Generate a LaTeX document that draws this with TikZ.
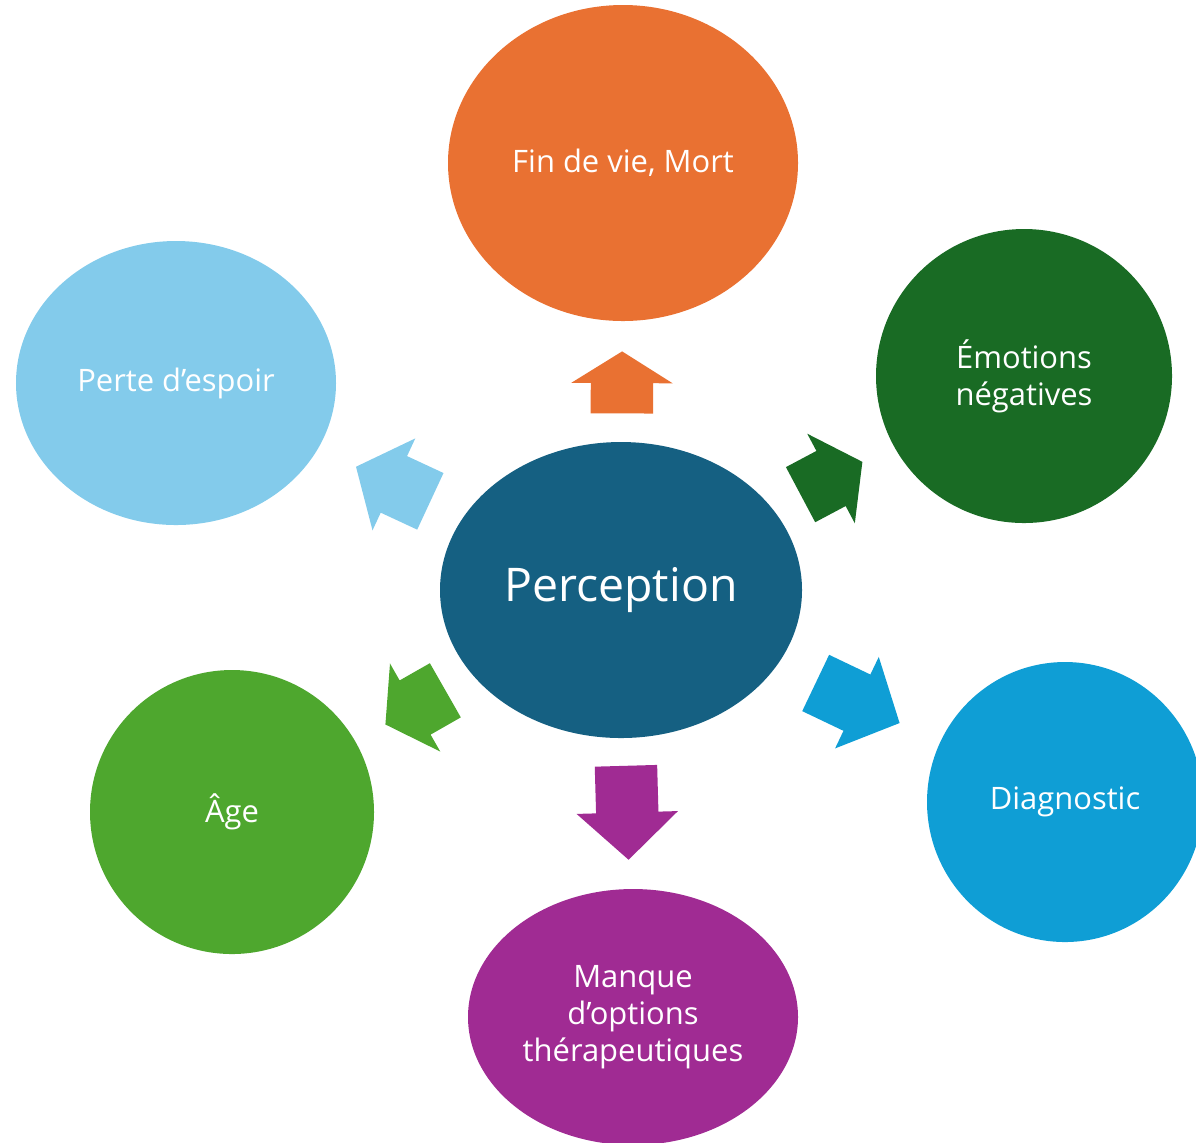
\documentclass[tikz,border=0pt]{standalone}
\usepackage{fontspec}
\setmainfont{Open Sans}
\usetikzlibrary{shapes.geometric,shapes.arrows}
\definecolor{cperc}{HTML}{156082}
\definecolor{cfin}{HTML}{E97132}
\definecolor{cemo}{HTML}{196B24}
\definecolor{cdiag}{HTML}{0F9ED5}
\definecolor{cmanque}{HTML}{A02B93}
\definecolor{cage}{HTML}{4EA72E}
\definecolor{cperte}{HTML}{83CBEB}
\tikzset{
    blob/.style={ellipse, draw=none, inner sep=0pt, text=white, align=center,
        font=\fontsize{8.8}{10.5}\selectfont},
    spoke/.style={single arrow, draw=none, inner xsep=0pt, inner ysep=0.305cm, minimum width=1cm,
        single arrow head extend=0.195cm, anchor=tail, sloped, allow upside down}
}
\begin{document}
\begin{tikzpicture}
    \useasboundingbox (0,0) rectangle (11.96,-11.42);
    \clip (0,0) rectangle (11.96,-11.42);
    \node[blob, fill=cperc, minimum width=3.62cm, minimum height=2.96cm,
        font=\fontsize{13.2}{15}\selectfont] (perc) at (6.21,-5.90) {\raisebox{-1.5pt}{Perception}};
    \node[blob, fill=cfin, minimum width=3.50cm, minimum height=3.16cm] (fin) at (6.23,-1.63) {Fin de vie, Mort};
    \node[blob, fill=cemo, minimum width=2.96cm, minimum height=2.94cm] (emo) at (10.24,-3.76) {Émotions\\négatives};
    \node[blob, fill=cdiag, minimum width=2.76cm, minimum height=2.80cm] (diag) at (10.65,-8.02) {Diagnostic};
    \node[blob, fill=cmanque, minimum width=3.30cm, minimum height=2.56cm] (manque) at (6.33,-10.17) {Manque\\d’options\\thérapeutiques};
    \node[blob, fill=cage, minimum width=2.84cm, minimum height=2.84cm] (age) at (2.32,-8.12) {Âge};
    \node[blob, fill=cperte, minimum width=3.20cm, minimum height=2.84cm] (perte) at (1.76,-3.83) {Perte d’espoir};
    \path (perc.center) -- (fin.center) node[spoke, pos=0.412, fill=cfin, minimum height=0.62cm, single arrow tip angle=116] (afin) {};
    \path (perc.center) -- (emo.center) node[spoke, pos=0.444, fill=cemo, minimum height=0.70cm, single arrow tip angle=110] (aemo) {};
    \path (perc.center) -- (diag.center) node[spoke, pos=0.437, fill=cdiag, minimum height=0.93cm, single arrow tip angle=94] (adiag) {};
    \path (perc.center) -- (manque.center) node[spoke, pos=0.41, fill=cmanque, minimum height=0.94cm, single arrow tip angle=94] (amanque) {};
    \path (perc.center) -- (age.center) node[spoke, pos=0.45, fill=cage, minimum height=0.69cm, single arrow tip angle=112] (aage) {};
    \path (perc.center) -- (perte.center) node[spoke, pos=0.427, fill=cperte, minimum height=0.82cm, single arrow tip angle=101] (aperte) {};
\end{tikzpicture}
\end{document}
